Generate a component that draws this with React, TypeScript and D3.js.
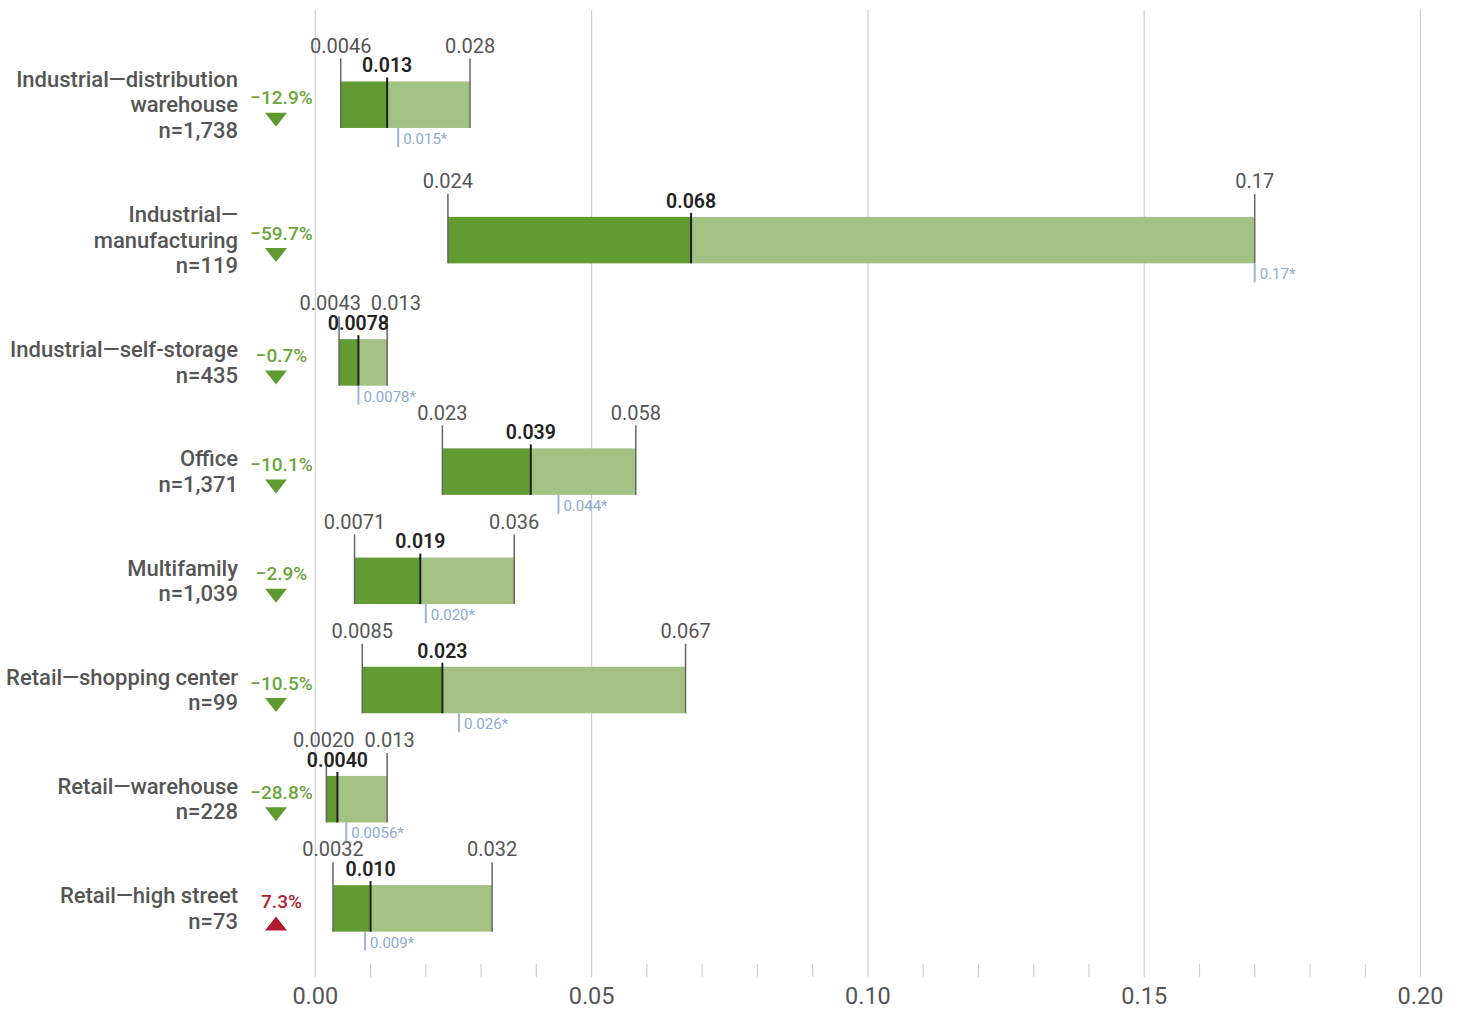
import React from "react";
import * as d3 from "d3";

const labelLines: string[][] = [
  ["Industrial—distribution", "warehouse"],
  ["Industrial—", "manufacturing"],
  ["Industrial—self-storage"],
  ["Office"],
  ["Multifamily"],
  ["Retail—shopping center"],
  ["Retail—warehouse"],
  ["Retail—high street"],
];
const counts = ["1,738", "119", "435", "1,371", "1,039", "99", "228", "73"];
const changes = [-12.9, -59.7, -0.7, -10.1, -2.9, -10.5, -28.8, 7.3];
const mins = [0.0046, 0.024, 0.0043, 0.023, 0.0071, 0.0085, 0.002, 0.0032];
const medians = [0.013, 0.068, 0.0078, 0.039, 0.019, 0.023, 0.004, 0.01];
const maxs = [0.028, 0.17, 0.013, 0.058, 0.036, 0.067, 0.013, 0.032];
const priors = [0.015, 0.17, 0.0078, 0.044, 0.02, 0.026, 0.0056, 0.009];
const priorLabels = ["0.015*", "0.17*", "0.0078*", "0.044*", "0.020*", "0.026*", "0.0056*", "0.009*"];
const xTicks = [0, 0.05, 0.1, 0.15, 0.2];

const W = 1462;
const H = 1009;
const FONT = "Roboto, 'Noto Sans', sans-serif";

function textWidth(s: string, size: number) {
  let w = 0;
  for (const ch of s) w += ch === "." ? 0.26 : 0.562;
  return w * size;
}

export default function App() {
  const x = d3.scaleLinear().domain([0, 0.2]).range([315.3, 1420.5]);
  const weights = labelLines.map((l) => (l.length + 1 >= 3 ? 1.24 : 1));
  const total = d3.sum(weights);
  const y = d3.scaleLinear().domain([0, total]).range([37, 963]);
  const cum = d3.cumsum(weights);
  const centers = weights.map((w, i) => y(cum[i] - w / 2));
  const fmt = d3.format(".2r");
  const minorTicks = d3.range(1, 20).map((d) => d / 100).filter((d) => Math.round(d * 100) % 5 !== 0);
  const barH = 46.5;
  const rangeFont = 20;

  return (
    <svg width={W} height={H} style={{ position: "absolute", left: 0, top: 0, fontFamily: FONT }}>
      {xTicks.map((t) => (
        <line key={"g" + t} x1={x(t)} x2={x(t)} y1={10} y2={977} stroke="#cfcfcf" strokeWidth={1.2} />
      ))}
      {minorTicks.map((t) => (
        <line key={"m" + t} x1={x(t)} x2={x(t)} y1={964} y2={977} stroke="#cfcfcf" strokeWidth={1.2} />
      ))}
      {xTicks.map((t) => (
        <text key={"t" + t} x={x(t)} y={1004} textAnchor="middle" fontSize={23.5} fill="#555">
          {d3.format(".2f")(t)}
        </text>
      ))}
      {centers.map((c, i) => {
        const lines = [...labelLines[i], "n=" + counts[i]];
        const lh = 25.5;
        const up = changes[i] > 0;
        const col = up ? "#b01c2e" : "#5f9a30";
        const txtCol = up ? "#b01c2e" : "#6aa63a";
        const tri = up
          ? `M${276 - 11},${c + 22} L${276 + 11},${c + 22} L276,${c + 8} Z`
          : `M${276 - 11},${c + 8} L${276 + 11},${c + 8} L276,${c + 22} Z`;
        const top = c - barH / 2;
        const bot = c + barH / 2;
        const minTxt = fmt(mins[i]);
        const maxTxt = fmt(maxs[i]);
        let minX = x(mins[i]);
        let maxX = x(maxs[i]);
        const need = (textWidth(minTxt, rangeFont) + textWidth(maxTxt, rangeFont)) / 2 + 10 - (maxX - minX);
        if (need > 0) {
          minX -= need / 2;
          maxX += need / 2;
        }
        return (
          <g key={i}>
            {lines.map((l, k) => (
              <text
                key={k}
                x={238}
                y={c + (k - (lines.length - 1) / 2) * lh}
                textAnchor="end"
                dominantBaseline="central"
                fontSize={22}
                fontWeight={500}
                fill="#555"
              >
                {l}
              </text>
            ))}
            <text
              x={281.5}
              y={c - 7}
              textAnchor="middle"
              dominantBaseline="central"
              fontSize={19}
              fontWeight={500}
              fill={txtCol}
            >
              {(changes[i] < 0 ? "−" : "") + Math.abs(changes[i]).toFixed(1) + "%"}
            </text>
            <path d={tri} fill={col} />
            <rect x={x(mins[i])} y={top} width={x(medians[i]) - x(mins[i])} height={barH} fill="#639b33" />
            <rect x={x(medians[i])} y={top} width={x(maxs[i]) - x(medians[i])} height={barH} fill="#a3c183" />
            <line x1={x(mins[i])} x2={x(mins[i])} y1={top - 23} y2={bot} stroke="#666" strokeWidth={1.5} />
            <line x1={x(maxs[i])} x2={x(maxs[i])} y1={top - 23} y2={bot} stroke="#666" strokeWidth={1.5} />
            <line x1={x(medians[i])} x2={x(medians[i])} y1={top - 4} y2={bot} stroke="#1e1e1e" strokeWidth={2} />
            <line x1={x(priors[i])} x2={x(priors[i])} y1={bot} y2={bot + 19} stroke="#9db6d8" strokeWidth={2} />
            <text x={x(priors[i]) + 5} y={bot + 11} dominantBaseline="central" fontSize={15} fill="#8ea9d2">
              {priorLabels[i]}
            </text>
            <text x={minX} y={c - 59} textAnchor="middle" dominantBaseline="central" fontSize={rangeFont} fill="#555">
              {minTxt}
            </text>
            <text x={maxX} y={c - 59} textAnchor="middle" dominantBaseline="central" fontSize={rangeFont} fill="#555">
              {maxTxt}
            </text>
            <text
              x={x(medians[i])}
              y={c - 39}
              textAnchor="middle"
              dominantBaseline="central"
              fontSize={19.5}
              fontWeight={600}
              fill="#222"
            >
              {fmt(medians[i])}
            </text>
          </g>
        );
      })}
    </svg>
  );
}
